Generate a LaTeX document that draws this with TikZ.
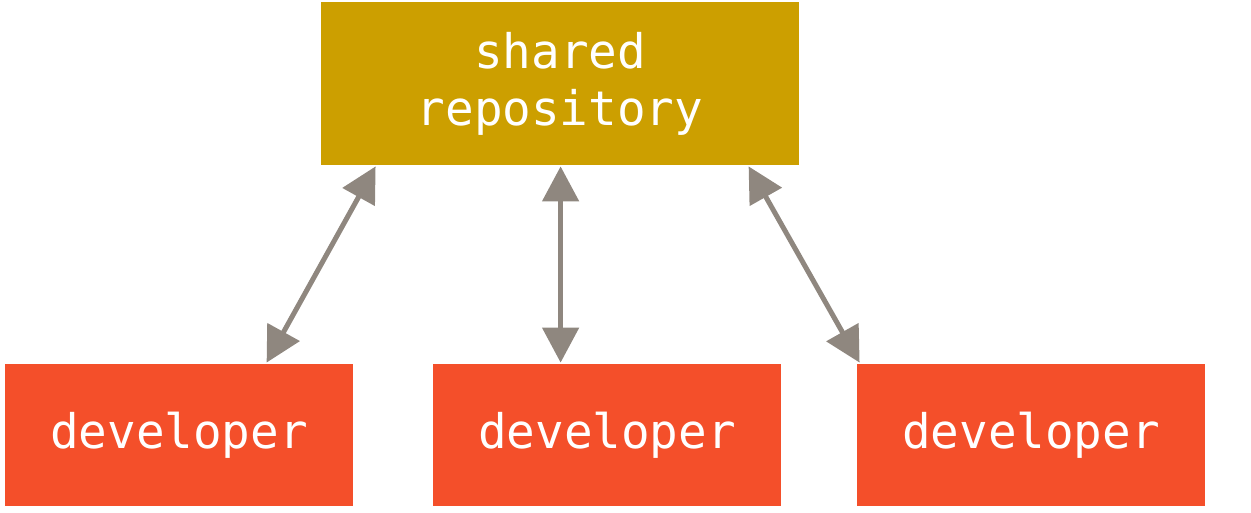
\documentclass[tikz,border=0pt]{standalone}
\usepackage{fontspec}
\setmonofont{DejaVu Sans Mono}
\usetikzlibrary{arrows.meta,calc}
\definecolor{repogold}{HTML}{CC9F00}
\definecolor{devred}{HTML}{F44F2A}
\definecolor{arrgray}{HTML}{8F877F}
\tikzset{
  box/.style={rectangle, inner sep=0pt, text=white, align=center,
    font=\ttfamily\fontsize{23.8}{28.5}\selectfont},
  repobox/.style={box, fill=repogold, minimum width=239pt, minimum height=81.5pt},
  devbox/.style={box, fill=devred, minimum width=174pt, minimum height=71pt},
  link/.style={draw=arrgray, line width=2.5pt,
    {Triangle[length=17.5pt,width=18pt]}-{Triangle[length=17.5pt,width=18pt]}}
}
\begin{document}
\begin{tikzpicture}[x=0.5pt,y=-0.5pt]
\useasboundingbox (0,0) rectangle (1251,513);
\node[repobox] (repo) at (560,83.5) {shared\\repository};
\node[devbox] (d1) at (179,435) {developer};
\node[devbox] (d2) at (607,435) {developer};
\node[devbox] (d3) at (1031,435) {developer};
\draw[link] ($(d1.north west)+(262,-1)$) -- ($(repo.south west)+(55,1)$);
\draw[link] ($(d2.north west)+(128,-1)$) -- ($(repo.south west)+(240,1)$);
\draw[link] ($(d3.north west)+(3,-1)$) -- ($(repo.south west)+(428,1)$);
\end{tikzpicture}
\end{document}
